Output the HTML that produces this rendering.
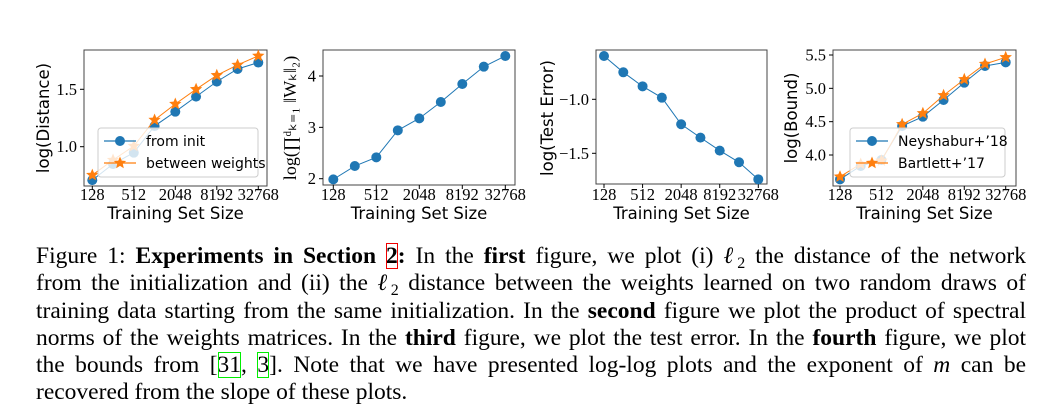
<!DOCTYPE html>
<html><head><meta charset="utf-8"><style>
body{margin:0;background:#fff;width:1054px;height:419px;overflow:hidden;position:relative}
#cap{position:absolute;left:36px;top:243px;width:990px;font-family:"Liberation Serif",serif;font-size:23.5px;line-height:27.3px;color:#000}
#cap div{white-space:nowrap;text-align:justify;text-align-last:justify;height:27.3px}
#cap div.last{text-align-last:left}
.sb{font-size:16px;position:relative;top:5px;line-height:0}
.r{outline:1.5px solid #e00;outline-offset:-1px}.g{outline:1.5px solid #0e0;outline-offset:-1px}
</style></head><body>
<svg id="s" width="1054" height="240" style="position:absolute;left:0;top:0"></svg>
<div id="cap">
<div>Figure 1: <b>Experiments in Section <span class="r">2</span>:</b> In the <b>first</b> figure, we plot (i) <i>ℓ</i><span class="sb">2</span> the distance of the network</div>
<div>from the initialization and (ii) the <i>ℓ</i><span class="sb">2</span> distance between the weights learned on two random draws of</div>
<div>training data starting from the same initialization. In the <b>second</b> figure we plot the product of spectral</div>
<div>norms of the weights matrices. In the <b>third</b> figure, we plot the test error. In the <b>fourth</b> figure, we plot</div>
<div>the bounds from [<span class="g">31</span>, <span class="g">3</span>]. Note that we have presented log-log plots and the exponent of <i>m</i> can be</div>
<div class="last">recovered from the slope of these plots.</div>
</div>
<script>
const xCats=[128,256,512,1024,2048,4096,8192,16384,32768];
const xTickLabels=["128","512","2048","8192","32768"];
const distInit=[0.709,0.849,0.948,1.18,1.305,1.436,1.567,1.677,1.733];
const distBetween=[0.753,0.884,1.006,1.233,1.372,1.5,1.622,1.712,1.791];
const specNorm=[1.987,2.247,2.416,2.942,3.175,3.494,3.844,4.182,4.390];
const testErr=[-0.599,-0.75,-0.88,-0.985,-1.231,-1.355,-1.475,-1.583,-1.741];
const boundNey=[3.635,3.835,3.925,4.435,4.575,4.825,5.085,5.335,5.39];
const boundBart=[3.675,3.865,3.915,4.46,4.625,4.895,5.135,5.365,5.465];
const ns="http://www.w3.org/2000/svg",S=document.getElementById('s');
function mk(t,a,p){const e=document.createElementNS(ns,t);for(const k in a)e.setAttribute(k,a[k]);(p||S).appendChild(e);return e;}
function star(cx,cy,r){let p=[];for(let i=0;i<10;i++){const a=-Math.PI/2+i*Math.PI/5,rr=i%2?r*0.45:r;p.push((cx+rr*Math.cos(a)).toFixed(1)+','+(cy+rr*Math.sin(a)).toFixed(1));}return p.join(' ');}
function chart(c){
 const g=mk('g',{});
 
 
 const X=i=>c.x0+(c.x1-c.x0)*Math.log2(xCats[i]/128)/8;
 const Y=v=>c.yA+(v-c.vA)*(c.yB-c.yA)/(c.vB-c.vA);
 mk('rect',{x:c.bx0,y:50,width:c.bx1-c.bx0,height:c.by1-50,fill:'none',stroke:'#444','stroke-width':1},g);
 xTickLabels.forEach((t,j)=>{const x=X(j*2);mk('line',{x1:x,x2:x,y1:c.by1,y2:c.by1+4,stroke:'#000'},g);
  const tx=mk('text',{x:x,y:200,'text-anchor':'middle','font-family':'Liberation Serif,serif','font-size':16.5},g);tx.textContent=t;});
 c.yt.forEach(v=>{const y=Y(v);mk('line',{x1:c.bx0-4,x2:c.bx0,y1:y,y2:y,stroke:'#000'},g);
  const tx=mk('text',{x:c.bx0-7,y:y+5.5,'text-anchor':'end','font-family':'Liberation Serif,serif','font-size':16.5},g);tx.textContent=c.fmt(v);});
 const xl=mk('text',{x:(c.bx0+c.bx1)/2,y:219,'text-anchor':'middle','font-family':'DejaVu Sans,sans-serif','font-size':16.5},g);xl.textContent='Training Set Size';
 
 const yl=mk('text',{x:0,y:0,'text-anchor':'middle','font-family':c.yf||'DejaVu Sans,sans-serif','font-size':c.ys||16.5,transform:`translate(${c.ylx},118) rotate(-90)`},g);yl.textContent=c.ylab;
 
 c.series.forEach(s=>{
  mk('polyline',{points:s.d.map((v,i)=>X(i)+','+Y(v)).join(' '),fill:'none',stroke:s.col,'stroke-width':1},g);
  s.d.forEach((v,i)=>{let m;if(s.star)m=mk('polygon',{points:star(X(i),Y(v),6.5),fill:s.col},g);else m=mk('circle',{cx:X(i),cy:Y(v),r:5,fill:s.col},g);
   });
 });
 if(c.leg){const L=c.leg;const lg=mk('g',{},g);
  mk('rect',{x:L.x,y:128,width:L.w,height:49,rx:3,fill:'#fff','fill-opacity':0.8,stroke:'#ccc'},lg);
  c.series.forEach((s,k)=>{const y=141+k*22;mk('line',{x1:L.x+6,x2:L.x+38,y1:y,y2:y,stroke:s.col,'stroke-width':1.2},lg);
   if(s.star)mk('polygon',{points:star(L.x+22,y,6.5),fill:s.col},lg);else mk('circle',{cx:L.x+22,cy:y,r:5,fill:s.col},lg);
   const t=mk('text',{x:L.x+48,y:y+5,'font-family':'DejaVu Sans,sans-serif','font-size':14},lg);t.textContent=s.lab;});}
}
const B='#1f77b4',O='#ff7f0e';
chart({name:'distance-chart',bx0:84,bx1:267,by1:186,x0:92.3,x1:258.3,vA:1.5,yA:89.3,vB:1.0,yB:146.7,yt:[1.0,1.5],fmt:v=>v.toFixed(1),ylx:49,ylab:'log(Distance)',
 series:[{d:distInit,col:B,lab:'from init',mname:'from-init-point'},{d:distBetween,col:O,star:1,lab:'between weights',mname:'between-weights-point'}],leg:{x:98,w:160}});
chart({name:'spectral-norm-chart',bx0:323,bx1:515,by1:185,x0:333.3,x1:505.3,vA:4,yA:76,vB:2,yB:178.7,yt:[2,3,4],fmt:v=>String(v),ylx:296,ys:18,yf:'Liberation Serif,serif',ylab:'log(∏ᵈₖ₌₁ ‖Wₖ‖₂)',
 series:[{d:specNorm,col:B,mname:'spectral-norm-point'}]});
chart({name:'test-error-chart',bx0:596,bx1:767,by1:184,x0:604,x1:758.3,vA:-1.0,yA:99.3,vB:-1.5,yB:153.3,yt:[-1.0,-1.5],fmt:v=>'−'+Math.abs(v).toFixed(1),ylx:553,ylab:'log(Test Error)',
 series:[{d:testErr,col:B,mname:'test-error-point'}]});
chart({name:'bound-chart',bx0:833,bx1:1016,by1:186,x0:840,x1:1005.7,vA:5.5,yA:55,vB:4.0,yB:155,yt:[4.0,4.5,5.0,5.5],fmt:v=>v.toFixed(1),ylx:797,ylab:'log(Bound)',
 series:[{d:boundNey,col:B,lab:'Neyshabur+’18',mname:'neyshabur-point'},{d:boundBart,col:O,star:1,lab:'Bartlett+’17',mname:'bartlett-point'}],leg:{x:850,w:155}});
</script>
</body></html>
